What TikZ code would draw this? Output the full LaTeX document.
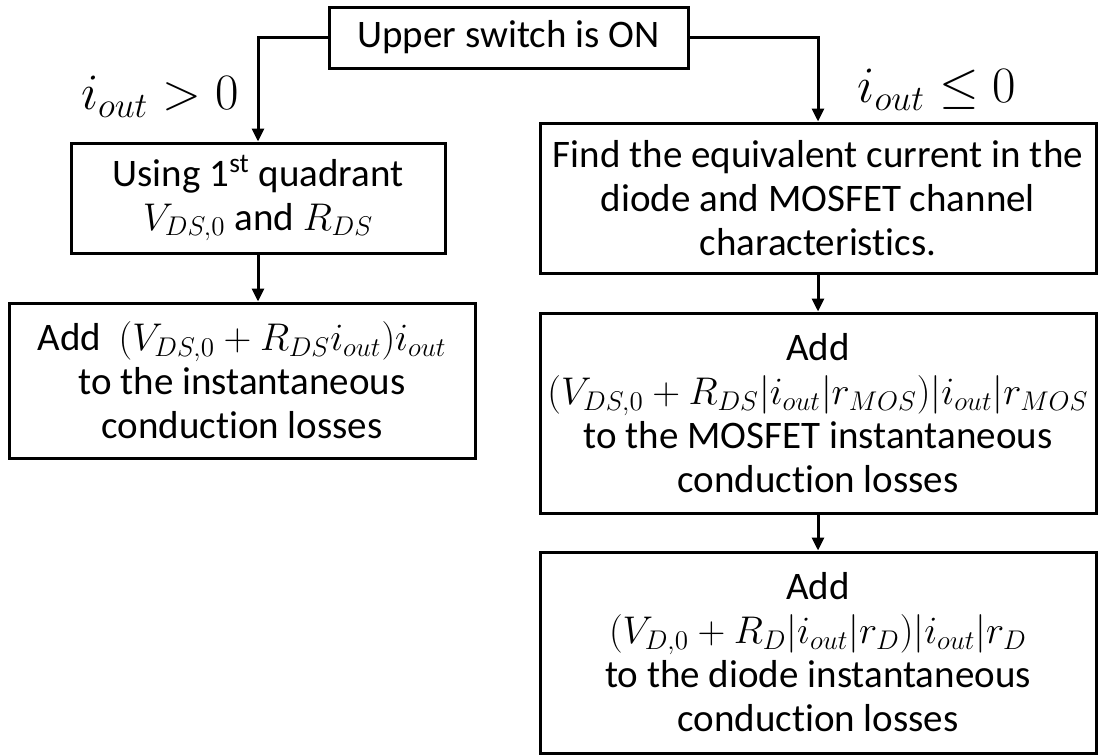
\RequirePackage{fix-cm}
\documentclass[tikz,border=0pt]{standalone}
\usepackage{fontspec}
\setmainfont{Carlito}[Ligatures=NoCommon]
\usetikzlibrary{arrows.meta}
\newcommand{\mathsz}{\fontsize{19.3}{22}\selectfont}
\begin{document}
\begin{tikzpicture}[
    x=0.5pt, y=0.5pt,
    every node/.style={draw, line width=1.5pt, align=center, inner sep=0pt, font=\fontsize{19.5}{22}\selectfont},
    arrow/.style={-{Triangle[length=6.5pt, width=6pt]}, line width=1.5pt},
    cond/.style={draw=none, font=\fontsize{25.5}{30}\selectfont}
]
\useasboundingbox (0,0) rectangle (1098,-755);

% Start of the check
\node[minimum width=179.5pt, minimum height=30.5pt] (start) at (508.5,-37.5) {Upper switch is ON};

% Positive current (left side)
\node[minimum width=187pt, minimum height=55pt] (quad) at (258,-198) {Using 1\textsuperscript{st} quadrant\\ {\mathsz$V_{DS,0}$} and {\mathsz$R_{DS}$}};
\node[minimum width=233pt, minimum height=77.5pt] (lossp) at (242,-380.5) {Add \ {\mathsz$(V_{DS,0}+R_{DS}i_{out})i_{out}$}\\ to the instantaneous\\ conduction losses};

% Negative current (right side)
\node[minimum width=278pt, minimum height=75pt] (equiv) at (818,-198) {Find the equivalent current in the\\ diode and MOSFET channel\\ characteristics.};
\node[minimum width=278pt, minimum height=100pt] (lossmos) at (818,-413) {Add\\ {\mathsz$(V_{DS,0}+R_{DS}|i_{out}|r_{MOS})|i_{out}|r_{MOS}$}\\ to the MOSFET instantaneous\\ conduction losses};
\node[minimum width=278pt, minimum height=100.5pt] (lossd) at (818,-652.5) {Add\\ {\mathsz$(V_{D,0}+R_{D}|i_{out}|r_{D})|i_{out}|r_{D}$}\\ to the diode instantaneous\\ conduction losses};

% Conditions
\node[cond] (pos) at (160,-97) {$i_{out} > 0$};
\node[cond] (neg) at (937,-90) {$i_{out} \le 0$};

% Arrows
\draw[arrow] (start.west) -| (quad.north);
\draw[arrow] (start.east) -| (equiv.north);
\draw[arrow] (quad.south) -- (quad.south |- lossp.north);
\draw[arrow] (equiv) -- (lossmos);
\draw[arrow] (lossmos) -- (lossd);

\end{tikzpicture}
\end{document}
